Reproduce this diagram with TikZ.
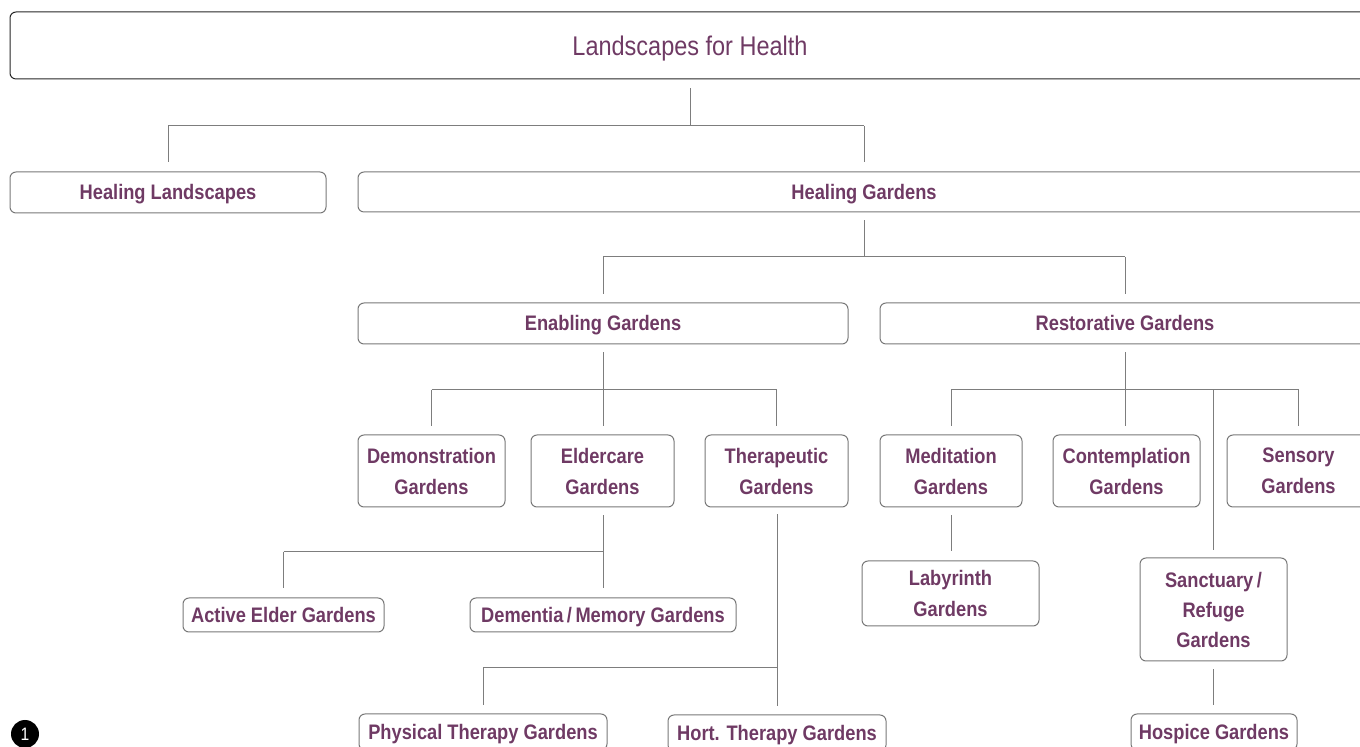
\documentclass[tikz,border=0pt]{standalone}
\usepackage{fontspec}
\setmainfont{Liberation Sans}[FakeStretch=0.87]
\definecolor{purp}{RGB}{111,58,100}
\definecolor{boxgray}{RGB}{120,120,120}
\definecolor{linegray}{RGB}{125,125,125}
\tikzset{
  box/.style={draw=boxgray, line width=0.5pt, rounded corners=3pt, text=purp,
    font=\bfseries\fontsize{10.5}{15.5}\selectfont, align=center, inner sep=0pt,
    text height=7.5pt, text depth=0pt},
  twoline/.style={text height=, text depth=},
  threeline/.style={font=\bfseries\fontsize{10.5}{15}\selectfont, text height=, text depth=},
  conn/.style={draw=linegray, line width=0.5pt},
}
\begin{document}
\begin{tikzpicture}[x=0.5pt,y=-0.5pt]
\useasboundingbox (0,0) rectangle (1360,747);
% nodes
\node[box, draw=black!85, minimum width=680pt, minimum height=33.5pt,
      font=\fontsize{13.5}{16}\selectfont, text height=9.7pt] (top) at (690,45.5) {Landscapes for Health};
\node[box, minimum width=158pt, minimum height=20.5pt] (hl) at (168,192.5) {Healing Landscapes};
\node[box, minimum width=506pt, minimum height=20pt] (hg) at (864,192) {Healing Gardens};
\node[box, minimum width=245pt, minimum height=20.5pt] (eg) at (603,323.5) {Enabling Gardens};
\node[box, minimum width=245pt, minimum height=20.5pt] (rg) at (1125,323.5) {Restorative Gardens};
\node[box, twoline, minimum width=73.5pt, minimum height=36pt] (demo) at (431.5,471) {Demonstration\\Gardens};
\node[box, twoline, minimum width=71.5pt, minimum height=36pt] (elder) at (602.5,471) {Eldercare\\Gardens};
\node[box, twoline, minimum width=71.5pt, minimum height=36pt] (thera) at (776.5,471) {Therapeutic\\Gardens};
\node[box, twoline, minimum width=71pt, minimum height=36pt] (medit) at (951,471) {Meditation\\Gardens};
\node[box, twoline, minimum width=73.5pt, minimum height=36pt] (contem) at (1126.5,471) {Contemplation\\Gardens};
\node[box, twoline, minimum width=71.5pt, minimum height=36pt] (sens) at (1298.5,471) {Sensory\\Gardens};
\node[box, twoline, minimum width=88.5pt, minimum height=32.5pt] (laby) at (950.5,593.5) {Labyrinth\\Gardens};
\node[box, threeline, minimum width=73.5pt, minimum height=51.5pt] (sanct) at (1213.5,609.5) {Sanctuary\,/\\Refuge\\Gardens};
\node[box, minimum width=100.5pt, minimum height=17pt] (active) at (283.5,615) {Active Elder Gardens};
\node[box, minimum width=133pt, minimum height=17pt] (dem) at (603,615) {Dementia\,/\,Memory Gardens};
\node[box, minimum width=124pt, minimum height=18pt] (phys) at (483,732) {Physical Therapy Gardens};
\node[box, minimum width=109pt, minimum height=18pt] (hort) at (777,733) {Hort. Therapy Gardens};
\node[box, minimum width=83pt, minimum height=18pt] (hosp) at (1214,732) {Hospice Gardens};
\node[circle, fill=black, text=white, minimum size=14pt, inner sep=0pt,
      font=\fontsize{9}{9}\selectfont] (num) at (25,734) {1};
% buses
\coordinate (b1) at (690,126);
\coordinate (b2) at (864,257);
\coordinate (b3) at (603,390);
\coordinate (b4) at (1125,390);
\coordinate (b5) at (603,552);
\coordinate (b6) at (777,668);
% level 1
\draw[conn] ([yshift=-4.5pt]top.south) -- (b1);
\draw[conn] (hl.north |- b1) -- (hg.north |- b1);
\draw[conn] (hl.north |- b1) -- ([yshift=4.5pt]hl.north);
\draw[conn] (hg.north |- b1) -- ([yshift=4.5pt]hg.north);
% level 2
\draw[conn] ([yshift=-4pt]hg.south) -- (b2);
\draw[conn] (eg.north |- b2) -- (rg.north |- b2);
\draw[conn] (eg.north |- b2) -- ([yshift=4pt]eg.north);
\draw[conn] (rg.north |- b2) -- ([yshift=4pt]rg.north);
% enabling
\draw[conn] ([yshift=-4pt]eg.south) -- (b3);
\draw[conn] (demo.north |- b3) -- (thera.north |- b3);
\draw[conn] (demo.north |- b3) -- ([yshift=4pt]demo.north);
\draw[conn] (b3) -- ([yshift=4pt]elder.north -| b3);
\draw[conn] (thera.north |- b3) -- ([yshift=4pt]thera.north);
% restorative
\draw[conn] ([yshift=-4pt]rg.south) -- (b4);
\draw[conn] (medit.north |- b4) -- (sens.north |- b4);
\draw[conn] (medit.north |- b4) -- ([yshift=4pt]medit.north);
\draw[conn] (b4) -- ([yshift=4pt]contem.north -| b4);
\draw[conn] (sens.north |- b4) -- ([yshift=4pt]sens.north);
\draw[conn] (sanct.north |- b4) -- ([yshift=3.5pt]sanct.north);
\draw[conn] ([yshift=-4pt]medit.south) -- ([yshift=4.5pt]laby.north -| medit.south);
\draw[conn] ([yshift=-4pt]sanct.south) -- ([yshift=4pt]hosp.north -| sanct.south);
% eldercare
\draw[conn] ([yshift=-4pt]elder.south -| b5) -- (b5);
\draw[conn] (active.north |- b5) -- (b5);
\draw[conn] (active.north |- b5) -- ([yshift=4.5pt]active.north);
\draw[conn] (b5) -- ([yshift=4.5pt]dem.north);
% therapeutic
\draw[conn] ([yshift=-3.5pt]thera.south -| b6) -- (b6);
\draw[conn] (phys.north |- b6) -- (b6);
\draw[conn] (phys.north |- b6) -- ([yshift=4pt]phys.north);
\draw[conn] (b6) -- ([yshift=4pt]hort.north);
\end{tikzpicture}
\end{document}
